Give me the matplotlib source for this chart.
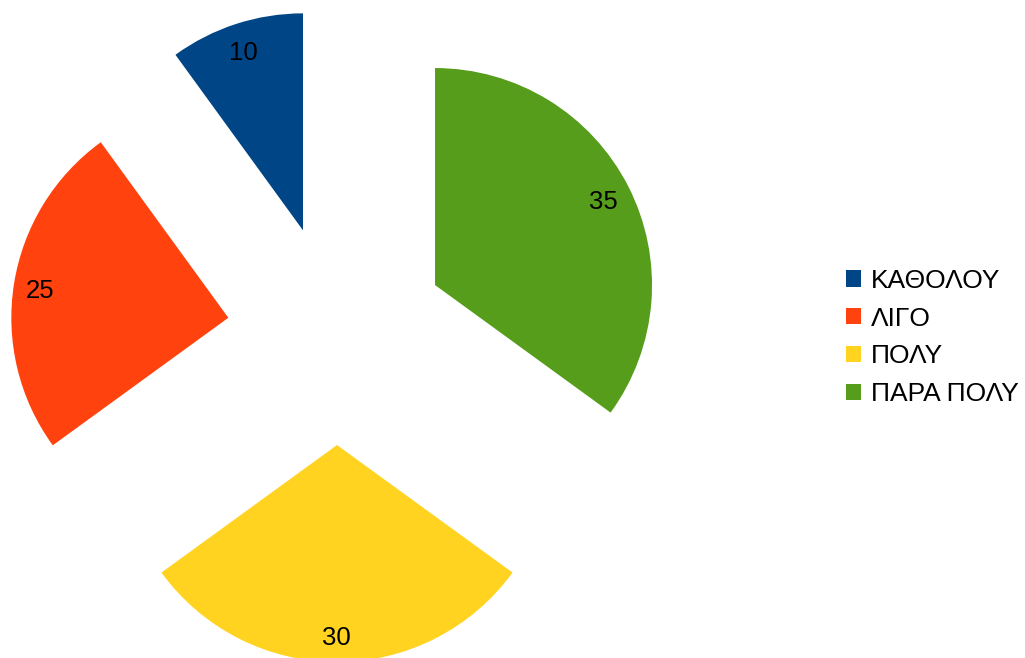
import matplotlib.pyplot as plt
from matplotlib.patches import Patch

plt.rcParams['font.family'] = ['Liberation Sans', 'DejaVu Sans']

# Απαντήσεις και πλήθος
labels = ["ΚΑΘΟΛΟΥ", "ΛΙΓΟ", "ΠΟΛΥ", "ΠΑΡΑ ΠΟΛΥ"]
values = [10, 25, 30, 35]
colors = ["#004586", "#FF420E", "#FFD320", "#579D1C"]
explode = [0.507, 0.507, 0.507, 0.507]

W, H = 1025, 658
fig = plt.figure(figsize=(W / 100, H / 100), dpi=100)
ax = fig.add_axes([0, 0, 1, 1])

# 1 μονάδα = 217 px (ακτίνα), κέντρο πίτας στο (337, 335)
r = 217.0
cx, cy = 337.0, 335.0
total = sum(values)
wedges, texts, autotexts = ax.pie(
    values, colors=colors, explode=explode, startangle=90,
    counterclock=True, radius=1, pctdistance=0.875,
    autopct=lambda p: f"{p * total / 100:.0f}",
    textprops={'fontsize': 18.5, 'color': 'black'},
    wedgeprops={'linewidth': 0})
# λίγο πιο χαμηλά οι ετικέτες τιμών
for t in autotexts:
    x, y = t.get_position()
    t.set_position((x - 1 / r, y - 3 / r))

ax.set_xlim(-cx / r, (W - cx) / r)
ax.set_ylim(-(H - cy) / r, cy / r)
ax.set_aspect('equal')
ax.axis('off')

handles = [Patch(facecolor=c, edgecolor='none') for c in colors]
fig.legend(handles, labels, loc='center left',
           bbox_to_anchor=(846 / W, 1 - 337.5 / H), frameon=False,
           fontsize=19, handlelength=0.57, handleheight=0.57,
           handletextpad=0.38, labelspacing=0.52, borderpad=0,
           borderaxespad=0)

fig.savefig("out.png", dpi=100)
